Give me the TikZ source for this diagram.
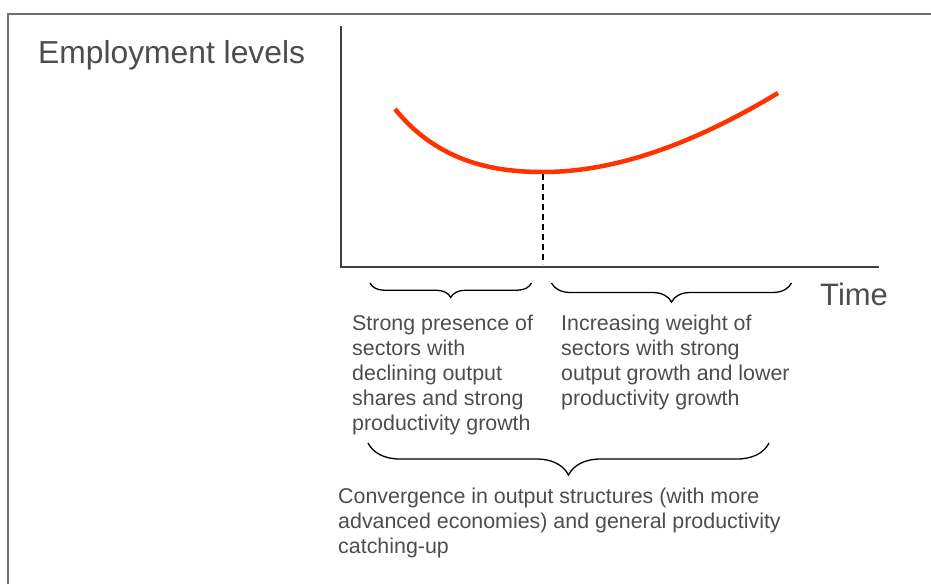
\documentclass[tikz,border=0pt]{standalone}
\usepackage{fontspec}
\setmainfont{Liberation Sans}
\usetikzlibrary{decorations.pathreplacing}
\definecolor{txtgray}{RGB}{77,77,77}
\definecolor{axisgray}{RGB}{64,64,64}
\definecolor{framegray}{RGB}{110,110,110}
\definecolor{curvered}{RGB}{255,51,0}
\tikzset{
  bigtext/.style={anchor=base west, inner sep=0pt, text=txtgray, font=\fontsize{31.8}{36}\selectfont},
  smalltext/.style={anchor=base west, inner sep=0pt, text=txtgray, font=\fontsize{21.4}{25}\selectfont},
  axisline/.style={draw=axisgray, line width=1.5pt},
  bracestyle/.style={draw=black, line width=1.3pt, decorate},
  curvestyle/.style={draw=curvered, line width=4.5pt},
  dropline/.style={draw=black, line width=2pt, dash pattern=on 6pt off 4pt}
}
\begin{document}
\begin{tikzpicture}[x=1pt,y=-1pt]
\useasboundingbox (0,0) rectangle (931,584);
% frame
\draw[framegray, line width=2pt] (8,584) -- (8,14) -- (931,14);
% axes
\coordinate (ytop) at (341,26);
\coordinate (origin) at (341,267);
\coordinate (xend) at (879,267);
\draw[axisline] (ytop) -- (origin) -- (xend);
% curve
\coordinate (cstart) at (395,109);
\coordinate (cmin) at (543,172);
\coordinate (cend) at (778,93);
\draw[curvestyle] (cstart) .. controls (440,165) and (500,172) .. (cmin)
                            .. controls (620,172) and (700,140) .. (cend);
% dashed drop line
\coordinate (dtop) at (543,174);
\coordinate (dbot) at (543,264);
\draw[dropline] (dtop) -- (dbot);
% braces
\coordinate (b1r) at (531.5,283);
\coordinate (b1l) at (370,283);
\draw[bracestyle, decoration={brace, amplitude=14.5pt}] (b1r) -- (b1l);
\coordinate (b2r) at (791.5,283);
\coordinate (b2l) at (551.5,283);
\draw[bracestyle, decoration={brace, amplitude=19pt}] (b2r) -- (b2l);
\coordinate (b3r) at (769,443);
\coordinate (b3l) at (368,443);
\draw[bracestyle, decoration={brace, amplitude=32pt}] (b3r) -- (b3l);
% texts
\node[bigtext] (ylabel) at (38,63) {Employment levels};
\node[bigtext, font=\fontsize{31}{36}\selectfont] (xlabel) at (820,305) {Time};
\node[smalltext] (left) at (352,330) {\begin{tabular}[t]{@{}l@{}}Strong presence of\\ sectors with\\ declining output\\ shares and strong\\ productivity growth\end{tabular}};
\node[smalltext] (right) at (561,330) {\begin{tabular}[t]{@{}l@{}}Increasing weight of\\ sectors with strong\\ output growth and lower\\ productivity growth\end{tabular}};
\node[smalltext] (bottom) at (338,503) {\begin{tabular}[t]{@{}l@{}}Convergence in output structures (with more\\ advanced economies) and general productivity\\ catching-up\end{tabular}};
\end{tikzpicture}
\end{document}
